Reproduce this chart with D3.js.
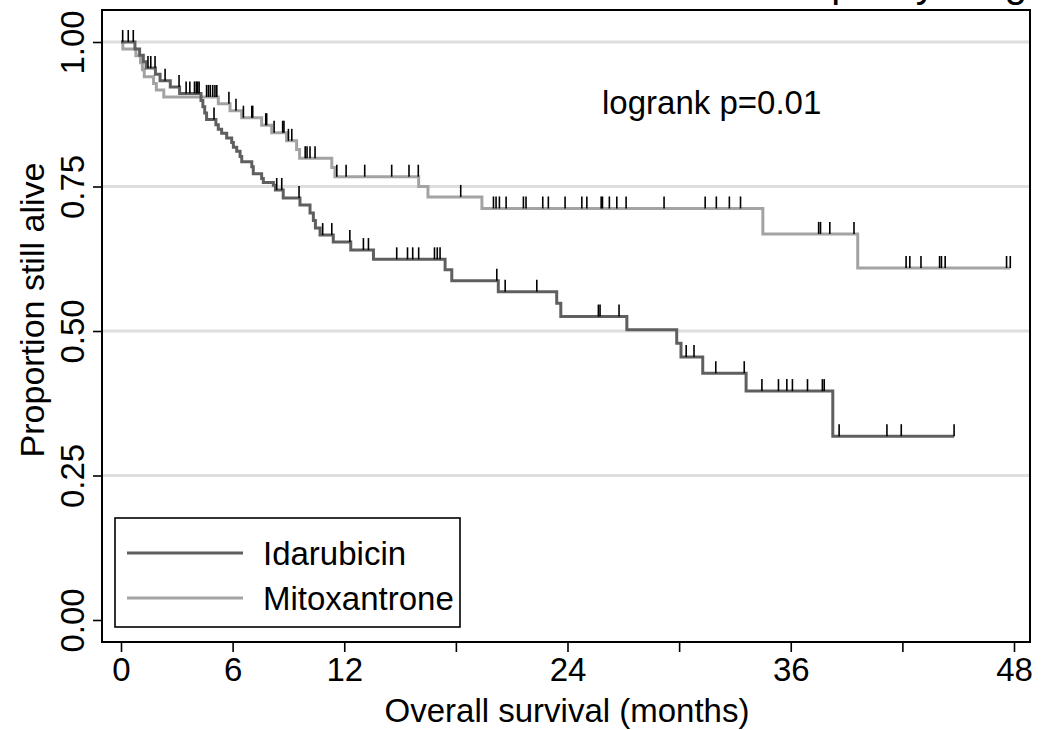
<!DOCTYPE html>
<html>
<head>
<meta charset="utf-8">
<script src="https://cdnjs.cloudflare.com/ajax/libs/d3/7.8.5/d3.min.js"></script>
<style>
html,body{margin:0;padding:0;background:#fff;}
svg{display:block;font-family:"Liberation Sans",Arial,Helvetica,sans-serif;}
</style>
</head>
<body>
<svg id="chart" width="1041" height="730"></svg>
<script>
// ---- data ----
const groups = ["Idarubicin", "Mitoxantrone"];
const groupColors = ["#5f5f5f", "#a3a3a3"];

// Idarubicin: Kaplan-Meier step times (months) and survival after each step
const idaStepTimes = [0.75,1.0,1.2,1.35,1.85,2.1,2.65,3.15,4.3,4.4,4.5,4.6,5.1,5.23,5.41,5.68,5.95,6.04,6.22,6.4,6.49,7.03,7.11,7.56,7.65,8.19,8.3,8.72,9.62,10.16,10.34,10.45,10.7,11.41,12.35,13.57,17.42,17.78,20.28,23.42,23.64,27.19,29.87,30.1,31.27,33.6,38.26];
const idaStepSurv  = [0.988,0.977,0.966,0.955,0.944,0.933,0.922,0.911,0.899,0.888,0.877,0.866,0.857,0.849,0.842,0.834,0.826,0.818,0.811,0.802,0.793,0.784,0.772,0.764,0.757,0.752,0.744,0.730,0.718,0.704,0.691,0.678,0.666,0.654,0.640,0.624,0.606,0.587,0.568,0.548,0.525,0.502,0.479,0.455,0.427,0.396,0.318];
const idaEnd = 44.78;
const idaCensor = [0.09,0.39,0.66,1.45,1.6,1.83,2.37,3.12,3.5,3.7,3.95,4.05,4.12,4.2,5.0,8.37,8.64,9.57,10.84,11.33,12.3,13.03,13.3,14.82,15.4,15.68,16.0,16.85,17.0,17.15,20.2,20.65,22.35,25.66,25.75,26.77,30.38,30.8,31.97,33.5,34.45,35.34,35.79,36.09,36.9,37.7,37.8,38.6,41.17,41.94,44.78];

// Mitoxantrone
const mitoStepTimes = [0.1,0.8,1.05,1.15,1.25,1.75,1.9,2.3,5.23,5.86,6.49,7.56,8.1,8.9,9.44,9.6,11.33,11.5,16.0,16.5,19.4,34.5,39.6];
const mitoStepSurv  = [0.988,0.976,0.964,0.952,0.940,0.928,0.917,0.905,0.893,0.881,0.869,0.856,0.843,0.829,0.814,0.799,0.783,0.767,0.750,0.732,0.712,0.668,0.609];
const mitoEnd = 47.8;
const mitoCensor = [4.6,4.7,4.8,4.93,5.05,5.15,5.8,6.18,6.58,7.03,7.08,7.78,7.83,8.23,8.69,8.76,9.0,9.18,9.9,10.0,10.16,10.43,11.6,12.1,13.1,14.55,15.48,15.98,18.26,20.02,20.16,20.34,20.7,21.63,21.77,22.67,22.97,23.87,24.77,25.04,25.81,25.88,26.25,26.65,27.15,29.19,31.4,32.0,32.7,33.3,37.5,37.6,38.1,39.4,42.2,42.4,43.0,44.0,44.1,44.3,47.6,47.8];

const xTicks = [0,6,12,18,24,30,36,42,48];
const xTickLabels = ["0","6","12","","24","","36","","48"];
const yTicks = [0,0.25,0.5,0.75,1];
const yTickLabels = ["0.00","0.25","0.50","0.75","1.00"];
const gridValues = [0.25,0.5,0.75,1];
const xTitle = "Overall survival (months)";
const yTitle = "Proportion still alive";
const annotation = "logrank p=0.01";
const titleText = "Overall survival split by drug";

// ---- drawing ----
const svg = d3.select("#chart");
const frame = {left:102, right:1030, top:10, bottom:642};
const x = d3.scaleLinear().domain([0,48]).range([121,1014]);
const y = d3.scaleLinear().domain([0,1]).range([620,42]);
const FONT = 33;

// title (cut off at the top edge, as in the reference)
svg.append("text").attr("x", 1027).attr("y", -3).attr("text-anchor","end")
  .attr("font-size", 40).attr("fill","#000").text(titleText);

// grid
svg.append("g").selectAll("line").data(gridValues).join("line")
  .attr("x1", frame.left).attr("x2", frame.right)
  .attr("y1", d=>y(d)).attr("y2", d=>y(d))
  .attr("stroke","#dedede").attr("stroke-width",3);

function build(times, surv, end){
  const pts = [[0,1]];
  times.forEach((t,i)=>pts.push([t, surv[i]]));
  pts.push([end, surv[surv.length-1]]);
  return pts;
}
function survAt(times, surv, t){
  let s = 1;
  for(let i=0;i<times.length;i++){ if(times[i] <= t) s = surv[i]; }
  return s;
}
const series = [
  {pts: build(idaStepTimes, idaStepSurv, idaEnd), times: idaStepTimes, surv: idaStepSurv, cens: idaCensor, color: groupColors[0]},
  {pts: build(mitoStepTimes, mitoStepSurv, mitoEnd), times: mitoStepTimes, surv: mitoStepSurv, cens: mitoCensor, color: groupColors[1]}
];
const line = d3.line().x(d=>x(d[0])).y(d=>y(d[1])).curve(d3.curveStepAfter);

// draw mitoxantrone first, then idarubicin on top
[series[1], series[0]].forEach(s=>{
  svg.append("path").datum(s.pts).attr("d", line)
    .attr("fill","none").attr("stroke", s.color).attr("stroke-width",3)
    .attr("stroke-linejoin","miter");
});
[series[1], series[0]].forEach(s=>{
  svg.append("g").selectAll("line").data(s.cens).join("line")
    .attr("x1", d=>x(d)).attr("x2", d=>x(d))
    .attr("y1", d=>y(survAt(s.times, s.surv, d)))
    .attr("y2", d=>y(survAt(s.times, s.surv, d)) - 12)
    .attr("stroke","#000").attr("stroke-width",1.6);
});

// frame
svg.append("rect").attr("x", frame.left).attr("y", frame.top)
  .attr("width", frame.right-frame.left).attr("height", frame.bottom-frame.top)
  .attr("fill","none").attr("stroke","#000").attr("stroke-width",2);

// x axis
const xAxis = d3.axisBottom(x).tickValues(xTicks).tickSize(10).tickPadding(6)
  .tickFormat((d,i)=>xTickLabels[i]);
const gx = svg.append("g").attr("transform",`translate(0,${frame.bottom})`).call(xAxis);
gx.select(".domain").remove();
gx.selectAll(".tick line").attr("stroke","#000").attr("stroke-width",1.6);
gx.selectAll(".tick text").attr("font-size", FONT).attr("fill","#000")
  .attr("font-family","'Liberation Sans',Arial,sans-serif");

// y axis
const yAxis = d3.axisLeft(y).tickValues(yTicks).tickSize(9).tickPadding(6)
  .tickFormat((d,i)=>yTickLabels[i]);
const gy = svg.append("g").attr("transform",`translate(${frame.left},0)`).call(yAxis);
gy.select(".domain").remove();
gy.selectAll(".tick line").attr("stroke","#000").attr("stroke-width",1.6);
gy.selectAll(".tick text").attr("font-size", FONT).attr("fill","#000")
  .attr("font-family","'Liberation Sans',Arial,sans-serif")
  .attr("text-anchor","middle").attr("dy",0).attr("x",0)
  .attr("transform","translate(-18,0) rotate(-90)")
  .attr("dominant-baseline","auto");

// axis titles
svg.append("text").attr("x", 567).attr("y", 722).attr("text-anchor","middle")
  .attr("font-size", FONT).attr("fill","#000").text(xTitle);
svg.append("text").attr("transform","translate(44,310) rotate(-90)")
  .attr("text-anchor","middle").attr("font-size", 34).attr("fill","#000").text(yTitle);

// annotation
svg.append("text").attr("x", 602).attr("y", 114).attr("font-size", FONT)
  .attr("fill","#000").text(annotation);

// legend
const lg = svg.append("g");
lg.append("rect").attr("x",115).attr("y",518).attr("width",345).attr("height",109)
  .attr("fill","#fff").attr("stroke","#000").attr("stroke-width",1.6);
groups.forEach((g,i)=>{
  const yy = 553 + i*45;
  lg.append("line").attr("x1",127).attr("x2",243).attr("y1",yy).attr("y2",yy)
    .attr("stroke", groupColors[i]).attr("stroke-width",3);
  lg.append("text").attr("x",263).attr("y",yy+12).attr("font-size",FONT)
    .attr("fill","#000").text(g);
});
</script>
</body>
</html>
